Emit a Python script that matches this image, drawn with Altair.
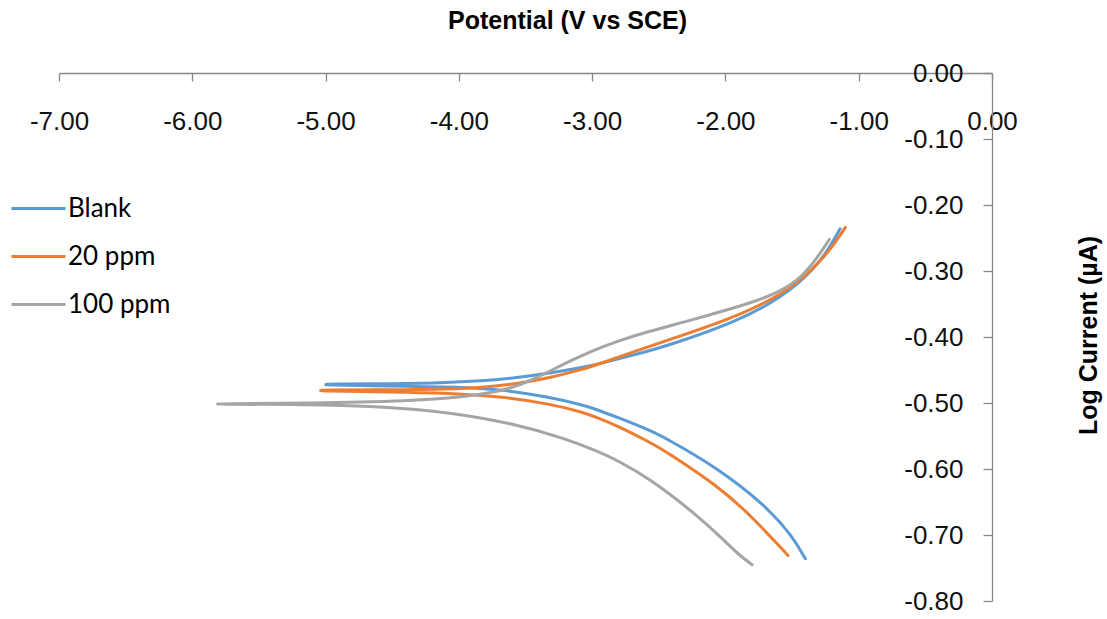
import altair as alt
import pandas as pd

series_names = ["Blank", "20 ppm", "100 ppm"]
series_colors = ["#5B9BD5", "#ED7D31", "#A5A5A5"]

blank_x = [-1.40, -1.50, -1.70, -2.07, -2.45, -2.57, -2.82, -2.95, -3.07, -3.32, -3.70, -4.00, -4.50, -5.04,
           -5.00, -4.50, -4.07, -3.80, -3.57, -3.32, -3.07, -2.95, -2.57, -2.45, -1.95, -1.57, -1.32, -1.20, -1.14]
blank_y = [-0.736, -0.701, -0.655, -0.597, -0.553, -0.541, -0.521, -0.511, -0.503, -0.491, -0.479, -0.476, -0.474, -0.473,
           -0.471, -0.471, -0.469, -0.466, -0.462, -0.455, -0.446, -0.441, -0.421, -0.414, -0.380, -0.340, -0.295, -0.258, -0.236]

ppm20_x = [-1.53, -1.82, -2.07, -2.45, -2.57, -2.82, -2.95, -3.07, -3.32, -3.70, -4.07, -4.50, -5.07,
           -5.05, -4.50, -4.07, -3.80, -3.57, -3.32, -3.07, -2.95, -2.57, -2.45, -1.95, -1.55, -1.30, -1.18, -1.10]
ppm20_y = [-0.731, -0.668, -0.624, -0.573, -0.559, -0.534, -0.523, -0.514, -0.501, -0.490, -0.485, -0.483, -0.482,
           -0.480, -0.480, -0.479, -0.476, -0.471, -0.462, -0.449, -0.441, -0.414, -0.406, -0.372, -0.334, -0.289, -0.258, -0.234]

ppm100_x = [-1.80, -1.90, -2.00, -2.20, -2.57, -2.82, -2.95, -3.20, -3.57, -4.07, -4.57, -5.20, -5.85,
            -5.83, -5.00, -4.32, -3.82, -3.60, -3.45, -3.30, -3.15, -3.00, -2.82, -2.57, -2.30, -1.95, -1.70, -1.50, -1.35, -1.22]
ppm100_y = [-0.745, -0.730, -0.710, -0.672, -0.614, -0.586, -0.574, -0.554, -0.532, -0.514, -0.505, -0.502, -0.502,
            -0.501, -0.500, -0.497, -0.488, -0.477, -0.465, -0.450, -0.435, -0.421, -0.407, -0.391, -0.377, -0.357, -0.341, -0.322, -0.292, -0.252]

x_ticks = [-7, -6, -5, -4, -3, -2, -1, 0]
y_ticks = [0, -0.1, -0.2, -0.3, -0.4, -0.5, -0.6, -0.7, -0.8]

rows = []
for name, xs, ys in [("Blank", blank_x, blank_y), ("20 ppm", ppm20_x, ppm20_y), ("100 ppm", ppm100_x, ppm100_y)]:
    for i, (xv, yv) in enumerate(zip(xs, ys)):
        rows.append({"series": name, "x": xv, "y": yv, "order": i})
df = pd.DataFrame(rows)

W = 933
H = 528
MINUS = "\u2212"
lab_expr = "replace(format(datum.value, '.2f'), '" + MINUS + "', '-')"

chart = alt.Chart(df).mark_line(strokeWidth=3, strokeCap="round", strokeJoin="round", interpolate="basis").encode(
    x=alt.X("x:Q", scale=alt.Scale(domain=[-7, 0], nice=False, zero=False),
            axis=alt.Axis(orient="bottom", offset=-H, values=x_ticks, labelExpr=lab_expr,
                          title="Potential (V vs SCE)", titleX=508, titleY=-53,
                          titleAlign="center", titleBaseline="middle",
                          titleFont="Liberation Sans", titleFontSize=25, titleFontWeight="bold",
                          titleColor="#000000",
                          labelFont="Liberation Sans", labelFontSize=26, labelColor="#111111",
                          labelBaseline="alphabetic", labelPadding=48, labelOverlap=False, labelFlush=False,
                          tickSize=8, tickColor="#888888", tickWidth=1.3,
                          domainColor="#888888", domainWidth=1.3, grid=False)),
    y=alt.Y("y:Q", scale=alt.Scale(domain=[-0.8, 0], nice=False, zero=False),
            axis=alt.Axis(orient="left", offset=-W, values=y_ticks, labelExpr=lab_expr,
                          title="Log Current (\u00b5A)", titleX=96, titleY=262, titleAngle=270,
                          titleAlign="center", titleBaseline="middle",
                          titleFont="Liberation Sans", titleFontSize=25, titleFontWeight="bold",
                          titleColor="#000000",
                          labelFont="Liberation Sans", labelFontSize=26, labelColor="#111111",
                          labelPadding=20, labelOverlap=False, labelFlush=False,
                          tickSize=9, tickColor="#888888", tickWidth=1.3,
                          domainColor="#888888", domainWidth=1.3, grid=False)),
    color=alt.Color("series:N", scale=alt.Scale(domain=series_names, range=series_colors),
                    sort=series_names,
                    legend=alt.Legend(title=None, orient="none", legendX=-49, legendY=107,
                                      symbolType="stroke", symbolSize=2916, symbolStrokeWidth=3,
                                      labelFont="Lato", labelFontSize=26, labelColor="#000000",
                                      labelOffset=1, rowPadding=6, padding=0)),
    order="order:Q",
).properties(
    width=W, height=H,
    autosize=alt.AutoSizeParams(type="none"),
    padding={"left": 59, "top": 73, "right": 115, "bottom": 18},
).configure_view(stroke=None)

chart.save("out.html", embed_options={"renderer": "svg", "actions": False})
